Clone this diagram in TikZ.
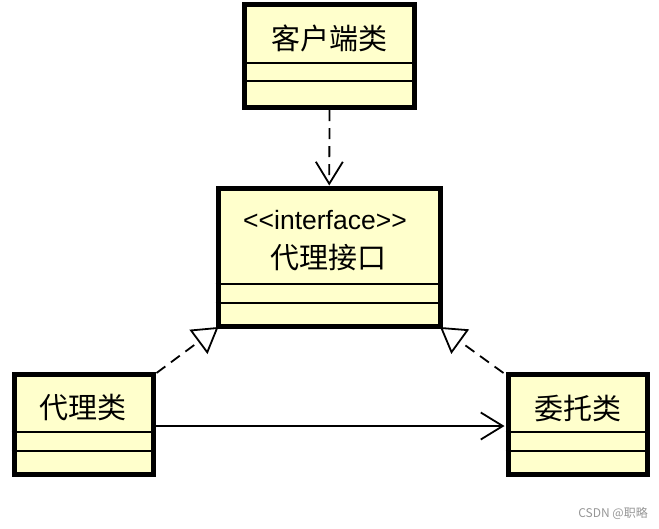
\documentclass[tikz,border=0pt]{standalone}
\usepackage{fontspec}
\setmainfont{Liberation Sans}
\newfontfamily\cjk{Noto Sans CJK SC}
\usetikzlibrary{arrows.meta}
\definecolor{boxfill}{RGB}{255,255,204}
\definecolor{wmgray}{RGB}{150,150,150}
\begin{document}
\begin{tikzpicture}[x=1pt,y=-1pt,
  cls/.style={draw=black, fill=boxfill, line width=5pt, inner sep=0pt, rectangle},
  divider/.style={line width=1.6pt},
  cname/.style={font=\cjk\fontsize{29}{32}\selectfont, inner sep=0pt},
  stereo/.style={font=\fontsize{26.5}{29}\selectfont, inner sep=0pt},
  depline/.style={line width=1.8pt, dash pattern=on 11pt off 7pt},
  realline/.style={line width=1.8pt, dash pattern=on 11pt off 7pt},
  assocline/.style={line width=1.8pt},
  openv/.style={-{Straight Barb[length=22pt,width=27pt,line width=1.8pt]}},
  hollow/.style={-{Triangle[open,length=25pt,width=30pt,line width=1.8pt]}},
  wm/.style={font=\cjk\fontsize{12}{14}\selectfont, text=wmgray, inner sep=0pt}
]
\useasboundingbox (0,0) rectangle (659,528);

% boxes
\node[cls, minimum width=170pt, minimum height=103pt] (client) at (329.5,56) {};
\node[cls, minimum width=222.5pt, minimum height=138.5pt] (iface) at (329.25,257.25) {};
\node[cls, minimum width=139pt, minimum height=100pt] (proxy) at (83.5,424.5) {};
\node[cls, minimum width=139.5pt, minimum height=100pt] (deleg) at (577.75,424.5) {};

% dividers
\draw[divider] (client.west |- 0,63) -- (client.east |- 0,63);
\draw[divider] (client.west |- 0,81) -- (client.east |- 0,81);
\draw[divider] (iface.west |- 0,284) -- (iface.east |- 0,284);
\draw[divider] (iface.west |- 0,303) -- (iface.east |- 0,303);
\draw[divider] (proxy.west |- 0,432) -- (proxy.east |- 0,432);
\draw[divider] (proxy.west |- 0,451) -- (proxy.east |- 0,451);
\draw[divider] (deleg.west |- 0,432) -- (deleg.east |- 0,432);
\draw[divider] (deleg.west |- 0,451) -- (deleg.east |- 0,451);

% texts
\node[cname] (clientname) at (329,38.5) {客户端类};
\node[stereo] (ifacestereo) at (325,220) {<\kern0pt<interface>\kern0pt>};
\node[cname] (ifacename) at (328,258) {代理接口};
\node[cname] (proxyname) at (82.5,407.5) {代理类};
\node[cname] (delegname) at (578,408) {委托类};

% connectors
\draw[depline, openv] (client.south) -- (iface.north);
\draw[realline, hollow] ([xshift=1pt,yshift=-1pt]proxy.north east) -- ([xshift=3pt,yshift=2pt]iface.south west);
\draw[realline, hollow] ([xshift=-2pt,yshift=-1pt]deleg.north west) -- ([xshift=-3pt,yshift=2pt]iface.south east);
\draw[assocline, openv] ([yshift=-1.5pt]proxy.east) -- ([yshift=-1.5pt,xshift=-1pt]deleg.west);

% watermark
\node[wm, anchor=east] (watermark) at (648,513) {CSDN @职略};
\end{tikzpicture}
\end{document}
